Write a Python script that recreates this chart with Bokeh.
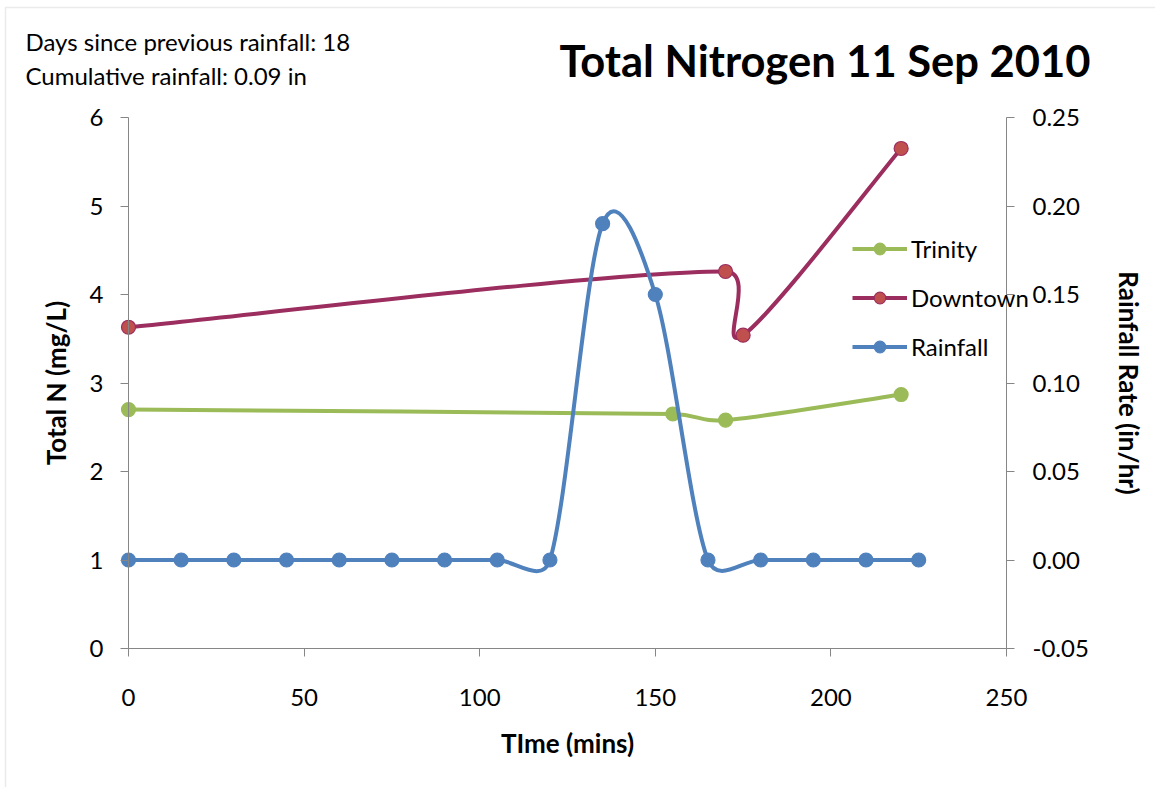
import numpy as np
from bokeh.plotting import figure
from bokeh.models import (Range1d, LinearAxis, Label, Legend, LegendItem,
                          NumeralTickFormatter, FixedTicker, BoxAnnotation)
from bokeh.embed import file_html
from bokeh.resources import INLINE

# ---- data ----
trinity_x = [0, 155, 170, 220]
trinity_y = [2.70, 2.65, 2.58, 2.87]
downtown_x = [0, 170, 175, 220]
downtown_y = [3.63, 4.26, 3.54, 5.65]
rain_x = [0, 15, 30, 45, 60, 75, 90, 105, 120, 135, 150, 165, 180, 195, 210, 225]
rain_y = [0, 0, 0, 0, 0, 0, 0, 0, 0, 0.19, 0.15, 0, 0, 0, 0, 0]

x_ticks = [0, 50, 100, 150, 200, 250]
yl_ticks = [0, 1, 2, 3, 4, 5, 6]
yr_ticks = [-0.05, 0, 0.05, 0.10, 0.15, 0.20, 0.25]

title_text = "Total Nitrogen 11 Sep 2010"
note1 = "Days since previous rainfall: 18"
note2 = "Cumulative rainfall: 0.09 in"

FONT = "Lato"
W, H = 1155, 787
# axis box (pixels from canvas top-left)
AL, AR, AT, AB = 128, 1006, 117, 648
AW, AH = AR - AL, AB - AT

XA = (0, 250)
YL = (0, 6)
YR = (-0.05, 0.25)

# the frame covers the whole canvas; axes are fixed at the box edges
sx = AW / (XA[1] - XA[0])
syl = AH / (YL[1] - YL[0])
syr = AH / (YR[1] - YR[0])
x_view = (XA[0] - AL / sx, XA[1] + (W - AR) / sx)
yl_view = (YL[0] - (H - AB) / syl, YL[1] + AT / syl)
yr_view = (YR[0] - (H - AB) / syr, YR[1] + AT / syr)

p = figure(width=W, height=H, output_backend="svg", toolbar_location=None,
           x_range=Range1d(*x_view), y_range=Range1d(*yl_view),
           min_border=0, min_border_left=0, min_border_right=0,
           min_border_top=0, min_border_bottom=0)
p.extra_y_ranges = {"rain": Range1d(*yr_view)}
p.outline_line_color = None
p.xgrid.visible = False
p.ygrid.visible = False
p.background_fill_color = "white"
p.border_fill_color = "white"

# chart-area border (only its left and top edges fall inside the picture)
p.add_layout(BoxAnnotation(left=x_view[0] + 5 / sx, right=x_view[1] + 20 / sx,
                           top=yl_view[1] - 7 / syl, bottom=yl_view[0] - 20 / syl,
                           fill_alpha=0, line_color="#BDBDBD", line_width=1.5,
                           level="underlay"))

AXC = "#868686"


def style_axis(ax):
    ax.axis_line_color = AXC
    ax.axis_line_width = 1
    ax.major_tick_line_color = AXC
    ax.major_tick_out = 8
    ax.major_tick_in = 0
    ax.minor_tick_out = 0
    ax.minor_tick_in = 0
    ax.major_label_text_font = FONT
    ax.major_label_text_font_size = "24px"
    ax.major_label_text_color = "black"
    ax.axis_label_text_font = FONT
    ax.axis_label_text_font_size = "26px"
    ax.axis_label_text_font_style = "bold"
    ax.axis_label_text_color = "black"


xa = p.xaxis[0]
style_axis(xa)
xa.ticker = FixedTicker(ticks=x_ticks)
xa.bounds = XA
xa.fixed_location = YL[0]
xa.axis_label = "TIme (mins)"
xa.major_label_standoff = 32
xa.axis_label_standoff = 18

ya = p.yaxis[0]
style_axis(ya)
ya.ticker = FixedTicker(ticks=yl_ticks)
ya.bounds = YL
ya.fixed_location = XA[0]
ya.axis_label = "Total N (mg/L)"
ya.major_label_standoff = 17
ya.axis_label_standoff = 15

ra = LinearAxis(y_range_name="rain")
style_axis(ra)
ra.ticker = FixedTicker(ticks=yr_ticks)
ra.formatter = NumeralTickFormatter(format="0.00")
ra.bounds = YR
ra.fixed_location = XA[1]
ra.axis_label = "Rainfall Rate (in/hr)"
ra.major_label_standoff = 18
ra.axis_label_standoff = 21
p.add_layout(ra, "right")


def excel_bezier(xs, ys, yrange):
    """Excel-like smoothed-line Bezier control points, computed in pixel space."""
    ky = AH / (yrange[1] - yrange[0])
    P = np.column_stack([np.array(xs, float) * sx, np.array(ys, float) * ky])
    n = len(P)
    out = {k: [] for k in ("x0", "y0", "x1", "y1", "cx0", "cy0", "cx1", "cy1")}
    for i in range(n - 1):
        p0 = P[i - 1] if i > 0 else P[i]
        p1 = P[i]
        p2 = P[i + 1]
        p3 = P[i + 2] if i + 2 < n else P[i + 1]
        d12 = np.hypot(*(p2 - p1))
        t1 = p2 - p0
        t2 = p3 - p1
        d02 = np.hypot(*t1)
        d13 = np.hypot(*t2)
        f1 = 1 / 6 if d02 == 0 else min(1 / 6, (d12 / 2) / d02)
        f2 = 1 / 6 if d13 == 0 else min(1 / 6, (d12 / 2) / d13)
        c1 = p1 + t1 * f1
        c2 = p2 - t2 * f2
        out["x0"].append(p1[0] / sx); out["y0"].append(p1[1] / ky)
        out["x1"].append(p2[0] / sx); out["y1"].append(p2[1] / ky)
        out["cx0"].append(c1[0] / sx); out["cy0"].append(c1[1] / ky)
        out["cx1"].append(c2[0] / sx); out["cy1"].append(c2[1] / ky)
    return out


GREEN = "#9BBB59"
PLUM = "#9B2D5F"
RED = "#C0504D"
BLUE = "#4F81BD"
LW = 4
MS = 14

series = [
    ("Trinity", trinity_x, trinity_y, YL, "default", GREEN, GREEN, GREEN),
    ("Downtown", downtown_x, downtown_y, YL, "default", PLUM, RED, PLUM),
    ("Rainfall", rain_x, rain_y, YR, "rain", BLUE, BLUE, BLUE),
]

items = []
for name, xs, ys, yr, rn, lc, fc, oc in series:
    bz = excel_bezier(xs, ys, yr)
    br = p.bezier(line_color=lc, line_width=LW, y_range_name=rn, **bz)
    sc = p.scatter(xs, ys, size=MS, fill_color=fc, line_color=oc, line_width=1.2,
                   y_range_name=rn)
    items.append(LegendItem(label=name, renderers=[br, sc]))

legend = Legend(items=items, location=(852, H - 361), orientation="vertical",
                glyph_width=55, glyph_height=29, label_height=29,
                label_standoff=4, spacing=20, padding=0, margin=0,
                border_line_color=None, background_fill_alpha=0,
                label_text_font=FONT, label_text_font_size="24px",
                label_text_color="black")
p.add_layout(legend, "center")

p.add_layout(Label(x=1090, y=H - 59, x_units="screen", y_units="screen",
                   text=title_text, text_font=FONT, text_font_size="43.5px",
                   text_font_style="bold", text_align="right",
                   text_baseline="alphabetic", text_color="black"))
p.add_layout(Label(x=25, y=H - 41, x_units="screen", y_units="screen",
                   text=note1, text_font=FONT, text_font_size="24px",
                   text_align="left", text_baseline="alphabetic", text_color="black"))
p.add_layout(Label(x=25, y=H - 75, x_units="screen", y_units="screen",
                   text=note2, text_font=FONT, text_font_size="24px",
                   text_align="left", text_baseline="alphabetic", text_color="black"))

open("out.html", "w").write(file_html(p, INLINE))
